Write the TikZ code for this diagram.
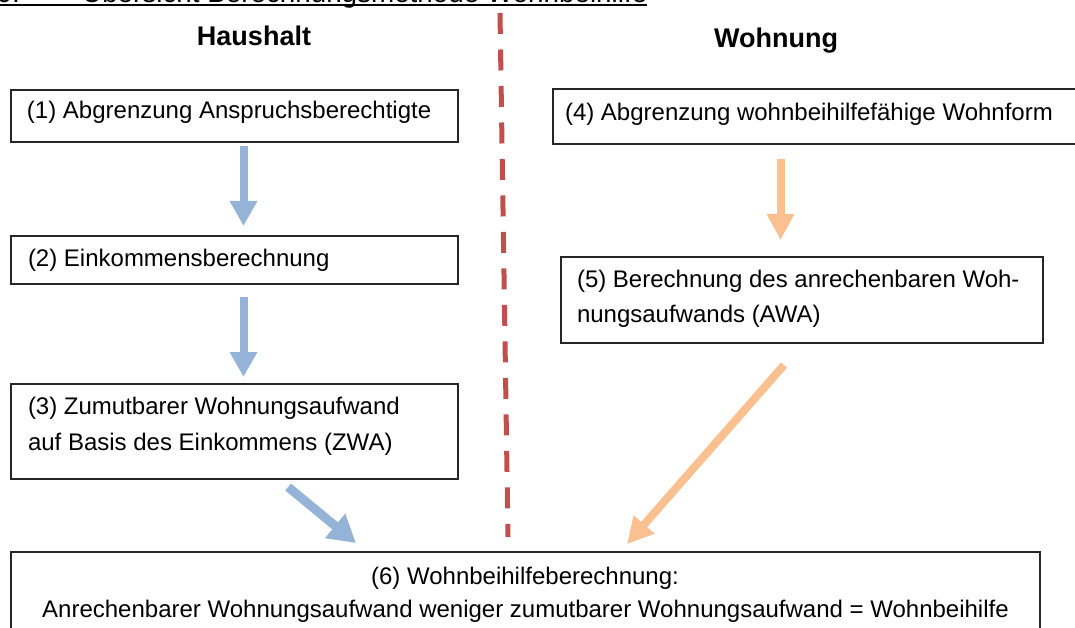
\documentclass[tikz,border=0pt]{standalone}
\usepackage{fontspec}
\setmainfont{Liberation Sans}
\usetikzlibrary{arrows.meta}
\definecolor{arrblue}{HTML}{95B3D7}
\definecolor{arrorange}{HTML}{FAC090}
\definecolor{dashred}{HTML}{C0504D}
\definecolor{boxline}{HTML}{262626}
\tikzset{
  box/.style={draw=boxline, line width=1.3pt, inner sep=0pt, outer sep=0pt, anchor=north west},
  txt/.style={inner sep=0pt, outer sep=0pt, anchor=base west, font=\fontsize{24}{36}\selectfont},
  head/.style={inner sep=0pt, anchor=base, font=\fontsize{27}{32}\selectfont\bfseries},
  bluearrow/.style={draw=arrblue, line width=8pt, -{Triangle[width=26pt,length=25pt]}, arrblue},
  bluediag/.style={draw=arrblue, line width=9pt, -{Triangle[width=30pt,length=27pt]}, arrblue},
  orangearrow/.style={draw=arrorange, line width=8pt, -{Triangle[width=26pt,length=26pt]}, arrorange},
  divider/.style={draw=dashred, line width=5pt, dash pattern=on 21pt off 15.5pt}
}
\begin{document}
\begin{tikzpicture}[x=1pt, y=-1pt]
\useasboundingbox (0,0) rectangle (1075,628);
\clip (0,0) rectangle (1075,628);
% title (cut off at top)
\node[inner sep=0pt, anchor=base east, font=\fontsize{27.8}{30}\selectfont] (tnum) at (20,2.5) {30:};
\node[inner sep=0pt, anchor=base west, font=\fontsize{27.8}{30}\selectfont] (title) at (82,2.5) {Übersicht Berechnungsmethode Wohnbeihilfe};
\draw[line width=2pt] (0,5) -- (647,5);
% headings
\node[head] (hh) at (254,46) {Haushalt};
\node[head] (hw) at (776,48) {Wohnung};
% divider
\coordinate (dtop) at (500,13);
\coordinate (dbot) at (508,537);
\draw[divider] (dtop) -- (dbot);
% boxes
\node[box, minimum width=447pt, minimum height=52pt] (b1) at (11,90) {};
\node[box, minimum width=447pt, minimum height=48pt] (b2) at (11,236) {};
\node[box, minimum width=447pt, minimum height=95pt] (b3) at (11,384) {};
\node[box, minimum width=532pt, minimum height=55pt] (b4) at (553,89) {};
\node[box, minimum width=482pt, minimum height=86pt] (b5) at (561,257) {};
\node[box, minimum width=1029pt, minimum height=100pt] (b6) at (11,552) {};
% texts
\node[txt] (t1) at (27,119) {(1) Abgrenzung Anspruchsberechtigte};
\node[txt] (t2) at (28,266) {(2) Einkommensberechnung};
\node[txt] (t3a) at (28,414) {(3) Zumutbarer Wohnungsaufwand};
\node[txt] (t3b) at (28,450) {auf Basis des Einkommens (ZWA)};
\node[txt] (t4) at (565,121) {(4) Abgrenzung wohnbeihilfefähige Wohnform};
\node[txt] (t5a) at (577,287) {(5) Berechnung des anrechenbaren Woh-};
\node[txt] (t5b) at (577,322) {nungsaufwands (AWA)};
\node[txt, anchor=base] (t6a) at (525,584) {(6) Wohnbeihilfeberechnung:};
\node[txt, anchor=base] (t6b) at (525.5,617) {Anrechenbarer Wohnungsaufwand weniger zumutbarer Wohnungsaufwand = Wohnbeihilfe};
% arrows
\draw[bluearrow, shorten <=4pt, shorten >=10pt] ([xshift=9pt]b1.south) -- ([xshift=9pt]b2.north);
\draw[bluearrow, shorten <=13pt, shorten >=7pt] ([xshift=9pt]b2.south) -- ([xshift=9pt]b3.north);
\draw[bluediag, shorten <=12.6pt, shorten >=14.1pt] ([xshift=43.9pt]b3.south) -- ([xshift=-158.7pt]b6.north);
\draw[orangearrow, shorten <=15pt, shorten >=17pt] ([xshift=-38.5pt]b4.south) -- ([xshift=-38.5pt]b5.north -| b4.south);
\draw[orangearrow, shorten <=29.3pt, shorten >=10.6pt] ([xshift=1.3pt]b5.south) -- ([xshift=94.5pt]b6.north);
\end{tikzpicture}
\end{document}
